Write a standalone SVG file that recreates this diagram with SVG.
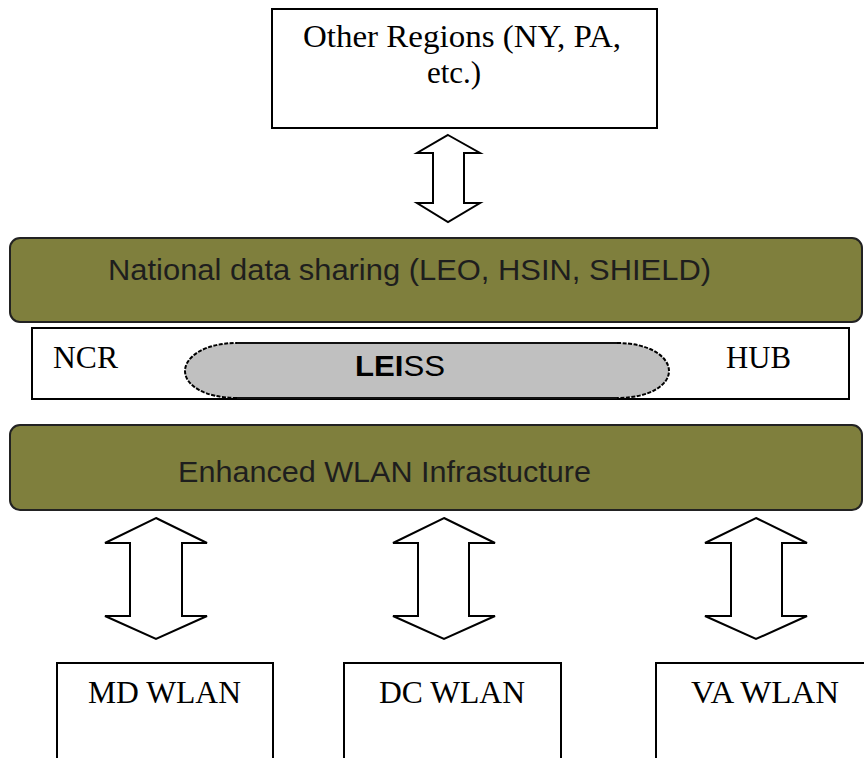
<svg xmlns="http://www.w3.org/2000/svg" width="864" height="758" viewBox="0 0 864 758">
<defs>
<style>
.box{fill:#fff;stroke:#000;stroke-width:2}
.band{fill:#7f7f3d;stroke:#222;stroke-width:2}
.serif{font-family:"Liberation Serif","Times New Roman",serif;font-size:31px;fill:#000}
.sans{font-family:"Liberation Sans",Arial,sans-serif;font-size:30px;fill:#1e1e1e}
.arrow{fill:#fff;stroke:#000;stroke-width:2;stroke-linejoin:miter}
</style>
</defs>
<rect width="864" height="758" fill="#fff"/>

<g id="other-regions">
<rect class="box" x="272" y="9" width="385" height="119"/>
<text class="serif" x="462" y="47" text-anchor="middle" textLength="318" lengthAdjust="spacingAndGlyphs">Other Regions (NY, PA,</text>
<text class="serif" x="454" y="83" text-anchor="middle">etc.)</text>
</g>

<g id="national">
<rect class="band" x="10" y="238" width="852" height="84" rx="10" ry="10"/>
<text class="sans" x="108" y="280" textLength="603" lengthAdjust="spacingAndGlyphs">National data sharing (LEO, HSIN, SHIELD)</text>
</g>

<g id="ncr-hub">
<rect class="box" x="32" y="328" width="817" height="71"/>
<text class="serif" x="53" y="368" textLength="65" lengthAdjust="spacingAndGlyphs">NCR</text>
<text class="serif" x="726" y="368" textLength="65" lengthAdjust="spacingAndGlyphs">HUB</text>
</g>

<g id="leiss">
<path d="M237,343 L617,343 C650,343 669,357 669,371 C669,385 650,398 617,398 L237,398 C204,398 185,385 185,371 C185,357 204,343 237,343 Z" fill="#c0c0c0" stroke="none"/>
<path d="M237,343 L617,343 M237,398 L617,398" fill="none" stroke="#111" stroke-width="2"/>
<path d="M617,343 C650,343 669,357 669,371 C669,385 650,398 617,398 M237,398 C204,398 185,385 185,371 C185,357 204,343 237,343" fill="none" stroke="#000" stroke-width="2" stroke-dasharray="4,1.5"/>
<text class="sans" x="355" y="376" textLength="90" lengthAdjust="spacingAndGlyphs" style="font-size:29px;fill:#000"><tspan font-weight="bold">LEI</tspan>SS</text>
</g>

<g id="enhanced">
<rect class="band" x="10" y="425" width="852" height="85" rx="10" ry="10"/>
<text class="sans" x="178" y="482" textLength="413" lengthAdjust="spacingAndGlyphs">Enhanced WLAN Infrastucture</text>
</g>

<g id="md-wlan">
<rect class="box" x="57" y="663" width="216" height="110"/>
<text class="serif" x="88" y="703" textLength="153" lengthAdjust="spacingAndGlyphs">MD WLAN</text>
</g>
<g id="dc-wlan">
<rect class="box" x="344" y="663" width="217" height="110"/>
<text class="serif" x="379" y="703" textLength="146" lengthAdjust="spacingAndGlyphs">DC WLAN</text>
</g>
<g id="va-wlan">
<rect class="box" x="656" y="663" width="220" height="110"/>
<text class="serif" x="691" y="703" textLength="148" lengthAdjust="spacingAndGlyphs">VA WLAN</text>
</g>

<g id="connectors">
<path class="arrow" d="M448,135 L480,153 L464,153 L464,203 L480,203 L448,222 L417,203 L433,203 L433,153 L417,153 Z"/>
<path class="arrow" d="M156,518 L207,543 L182,543 L182,616 L207,616 L156,639 L105,616 L130,616 L130,543 L105,543 Z"/>
<path class="arrow" d="M444,518 L495,543 L469,543 L469,616 L495,616 L444,639 L393,616 L418,616 L418,543 L393,543 Z"/>
<path class="arrow" d="M756,518 L807,543 L782,543 L782,616 L807,616 L756,639 L705,616 L731,616 L731,543 L705,543 Z"/>
</g>
</svg>
